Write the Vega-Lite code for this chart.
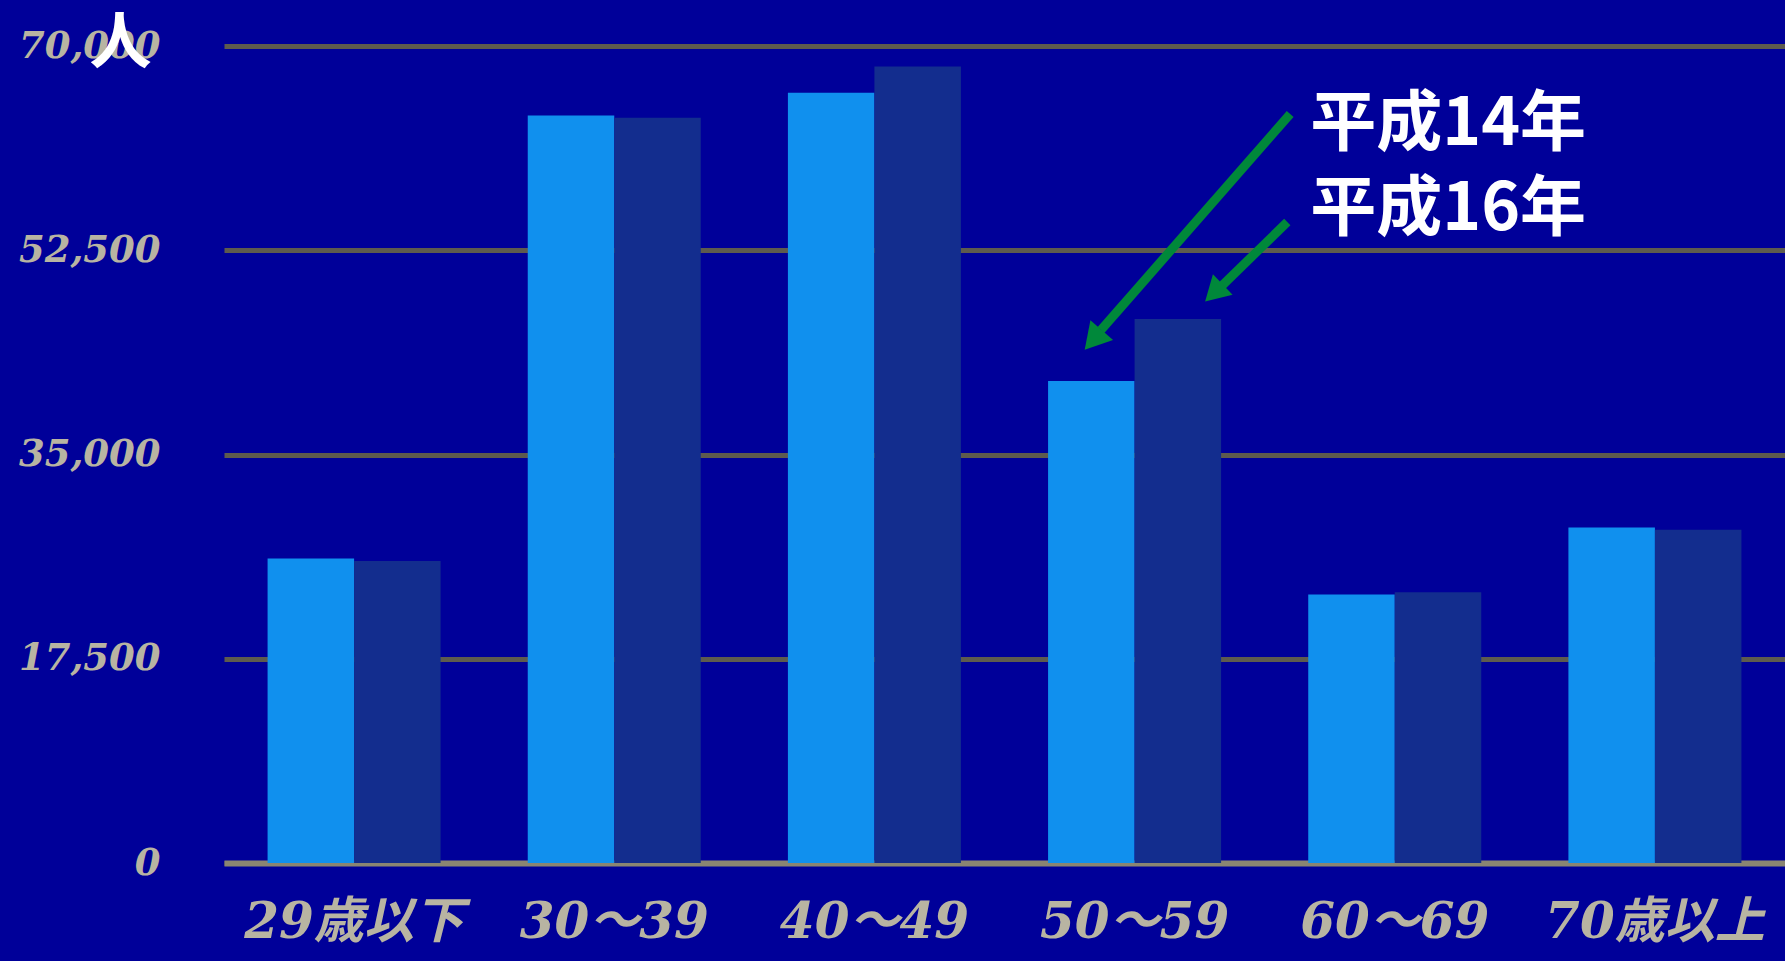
{
  "$schema": "https://vega.github.io/schema/vega-lite/v6.json",
  "autosize": "none",
  "width": 1561,
  "height": 817,
  "padding": {"left": 224, "top": 46, "right": 0, "bottom": 98},
  "background": "#000099",
  "config": {"view": {"stroke": null}},
  "datasets": {
    "bars": [
      {"age": "29歳以下", "year": "平成14年", "value": 26100},
      {"age": "29歳以下", "year": "平成16年", "value": 25880},
      {"age": "30～39", "year": "平成14年", "value": 64050},
      {"age": "30～39", "year": "平成16年", "value": 63850},
      {"age": "40～49", "year": "平成14年", "value": 66000},
      {"age": "40～49", "year": "平成16年", "value": 68250},
      {"age": "50～59", "year": "平成14年", "value": 41300},
      {"age": "50～59", "year": "平成16年", "value": 46600},
      {"age": "60～69", "year": "平成14年", "value": 23000},
      {"age": "60～69", "year": "平成16年", "value": 23200},
      {"age": "70歳以上", "year": "平成14年", "value": 28750},
      {"age": "70歳以上", "year": "平成16年", "value": 28550}
    ],
    "arrows": [
      {"year": "平成14年", "x": 4.098, "value": 64174, "x2": 3.371, "value2": 45668, "hx": 3.341, "hvalue": 44811},
      {"year": "平成16年", "x": 4.087, "value": 54920, "x2": 3.819, "value2": 49095, "hx": 3.805, "hvalue": 48837}
    ],
    "labels": [
      {"label": "平成14年", "x": 4.175, "value": 63232},
      {"label": "平成16年", "x": 4.175, "value": 55949}
    ]
  },
  "resolve": {"scale": {"x": "independent"}, "axis": {"x": "independent"}},
  "layer": [
    {
      "data": {"name": "bars"},
      "mark": {"type": "bar"},
      "encoding": {
        "x": {
          "field": "age", "type": "nominal", "sort": null,
          "scale": {"paddingInner": 0.335, "paddingOuter": 0.1675},
          "axis": {
            "title": null, "labelAngle": 0, "ticks": false, "labelLimit": 0,
            "labelFont": "DejaVu Serif, Noto Sans CJK JP",
            "labelFontStyle": "italic", "labelFontWeight": "bold",
            "labelFontSize": 50, "labelColor": "#b8b4a2",
            "labelPadding": 34, "labelBaseline": "top",
            "domain": true, "domainColor": "#8a8572", "domainWidth": 6,
            "grid": false
          }
        },
        "xOffset": {"field": "year", "type": "nominal", "scale": {"paddingInner": 0}},
        "y": {
          "field": "value", "type": "quantitative",
          "scale": {"domain": [0, 70000], "nice": false},
          "axis": {
            "title": "人", "titleAngle": 0, "titleX": -104, "titleY": -2,
            "titleAlign": "center", "titleBaseline": "middle",
            "titleFont": "Noto Sans CJK JP", "titleFontSize": 62, "titleFontWeight": "bold",
            "titleColor": "#ffffff",
            "values": [0, 17500, 35000, 52500, 70000],
            "labelExpr": "format(datum.value, ',')",
            "ticks": false, "domain": false,
            "labelFont": "DejaVu Serif", "labelFontStyle": "italic", "labelFontWeight": "bold",
            "labelFontSize": 37, "labelColor": "#b8b4a2", "labelPadding": 64,
            "grid": true, "gridColor": "#5e5b4e", "gridWidth": 5
          }
        },
        "color": {
          "field": "year", "type": "nominal",
          "scale": {"domain": ["平成14年", "平成16年"], "range": ["#1090ee", "#132d8e"]},
          "legend": null
        }
      }
    },
    {
      "data": {"name": "arrows"},
      "mark": {"type": "rule", "color": "#00883a", "strokeWidth": 9},
      "encoding": {
        "x": {"field": "x", "type": "quantitative", "scale": {"domain": [0, 6], "nice": false}, "axis": null},
        "x2": {"field": "x2"},
        "y": {"field": "value", "type": "quantitative"},
        "y2": {"field": "value2"}
      }
    },
    {
      "data": {"name": "arrows"},
      "transform": [{"filter": "datum.year === '平成14年'"}],
      "mark": {"type": "point", "shape": "triangle-up", "filled": true, "color": "#00883a", "opacity": 1, "size": 900, "angle": 221},
      "encoding": {
        "x": {"field": "hx", "type": "quantitative", "scale": {"domain": [0, 6], "nice": false}, "axis": null},
        "y": {"field": "hvalue", "type": "quantitative"}
      }
    },
    {
      "data": {"name": "arrows"},
      "transform": [{"filter": "datum.year === '平成16年'"}],
      "mark": {"type": "point", "shape": "triangle-up", "filled": true, "color": "#00883a", "opacity": 1, "size": 800, "angle": 226},
      "encoding": {
        "x": {"field": "hx", "type": "quantitative", "scale": {"domain": [0, 6], "nice": false}, "axis": null},
        "y": {"field": "hvalue", "type": "quantitative"}
      }
    },
    {
      "data": {"name": "labels"},
      "mark": {"type": "text", "align": "left", "baseline": "middle", "font": "Noto Sans CJK JP", "fontSize": 66, "fontWeight": "bold", "color": "#ffffff"},
      "encoding": {
        "x": {"field": "x", "type": "quantitative", "scale": {"domain": [0, 6], "nice": false}, "axis": null},
        "y": {"field": "value", "type": "quantitative"},
        "text": {"field": "label"}
      }
    }
  ]
}
